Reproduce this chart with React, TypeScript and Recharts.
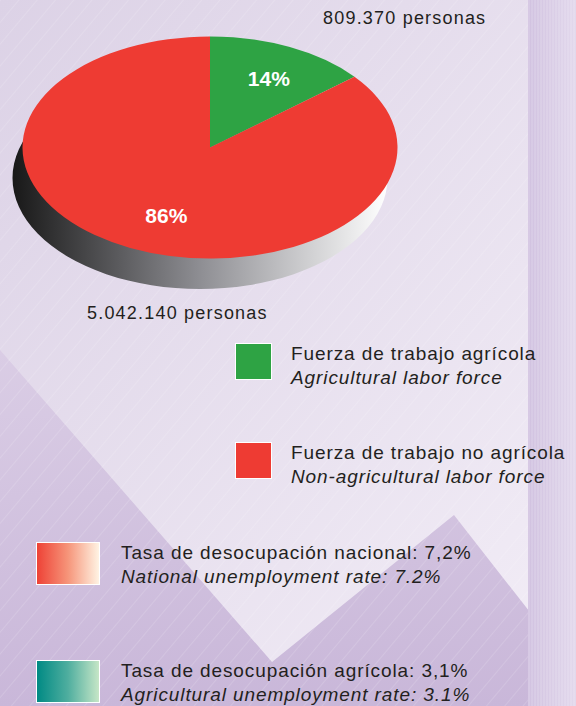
import { PieChart, Pie, Cell } from "recharts";

// labor force split (pie)
const laborShares = [14, 86];
const laborPeople = ["809.370 personas", "5.042.140 personas"];
const laborNamesEs = ["Fuerza de trabajo agrícola", "Fuerza de trabajo no agrícola"];
const laborNamesEn = ["Agricultural labor force", "Non-agricultural labor force"];
const laborColors = ["#2ea344", "#ee3b33"];

// unemployment rates (swatch legend)
const rateNamesEs = ["Tasa de desocupación nacional: 7,2%", "Tasa de desocupación agrícola: 3,1%"];
const rateNamesEn = ["National unemployment rate: 7.2%", "Agricultural unemployment rate: 3.1%"];
const rateSwatches = [
  ["#ee4236", "#f6957a", "#fff3e3"],
  ["#008a84", "#4fae9f", "#c6e6c7"],
];

const K = 0.592; // vertical squash for the tilted pie
const M = 5; // PieChart default margin
const RADIAN = Math.PI / 180;
const FONT = '"Liberation Sans", Arial, sans-serif';

const pieData = laborShares.map((v, i) => ({ name: laborNamesEn[i], value: v }));
const rimData = [{ name: "rim", value: laborShares.reduce((a, b) => a + b, 0) }];

function PctLabel(props: any) {
  const { cx, cy, midAngle, outerRadius, value, index } = props;
  const r = outerRadius * (index === 0 ? 0.7 : 0.66);
  const x = cx + r * Math.cos(-midAngle * RADIAN) + (index === 0 ? 3 : 9);
  const y = cy + r * Math.sin(-midAngle * RADIAN) + 3;
  return (
    <text
      x={0}
      y={0}
      transform={`translate(${x} ${y}) scale(1 ${1 / K})`}
      fill="#fff"
      textAnchor="middle"
      dominantBaseline="central"
      style={{ fontFamily: FONT, fontSize: 21, fontWeight: 700 }}
    >
      {value}%
    </text>
  );
}

const textBase: React.CSSProperties = {
  position: "absolute",
  fontFamily: FONT,
  color: "#231f20",
  whiteSpace: "nowrap",
};

function Background() {
  return (
    <svg width={576} height={706} style={{ position: "absolute", left: 0, top: 0 }}>
      <defs>
        <linearGradient id="bgLight" x1="0" y1="0" x2="1" y2="1">
          <stop offset="0%" stopColor="#dcd2e6" />
          <stop offset="100%" stopColor="#f3eef7" />
        </linearGradient>
        <linearGradient id="bgDark" x1="0" y1="350" x2="0" y2="706" gradientUnits="userSpaceOnUse">
          <stop offset="0%" stopColor="#dacde5" />
          <stop offset="100%" stopColor="#c9b7d9" />
        </linearGradient>
        <linearGradient id="strip" x1="0" y1="0" x2="1" y2="0">
          <stop offset="0%" stopColor="#d1c2e0" />
          <stop offset="100%" stopColor="#e2d8ec" />
        </linearGradient>
        <pattern id="hatch" width={14} height={14} patternUnits="userSpaceOnUse" patternTransform="rotate(40)">
          <line x1={0} y1={0} x2={0} y2={14} stroke="#ffffff" strokeWidth={0.7} strokeOpacity={0.4} />
        </pattern>
        <pattern id="vstripe" width={3} height={10} patternUnits="userSpaceOnUse">
          <line x1={1} y1={0} x2={1} y2={10} stroke="#ffffff" strokeWidth={0.8} strokeOpacity={0.3} />
        </pattern>
      </defs>
      <rect x={0} y={0} width={576} height={706} fill="url(#bgLight)" />
      <polygon points="0,350 272,662 454,515 540,625 540,706 0,706" fill="url(#bgDark)" />
      <rect x={0} y={0} width={528} height={706} fill="url(#hatch)" />
      <rect x={528} y={0} width={48} height={706} fill="url(#strip)" />
      <rect x={528} y={0} width={48} height={706} fill="url(#vstripe)" />
    </svg>
  );
}

export default function App() {
  return (
    <div
      style={{
        position: "absolute",
        left: 0,
        top: 0,
        width: 576,
        height: 706,
        overflow: "hidden",
        fontFamily: FONT,
      }}
    >
      <Background />

      {/* tilted pie: circle squashed vertically */}
      <div
        style={{
          position: "absolute",
          left: 0,
          top: 0,
          width: 420,
          height: 500,
          transform: `scaleY(${K})`,
          transformOrigin: "0 0",
        }}
      >
        <PieChart width={420} height={500}>
          <defs>
            <linearGradient id="rimGrad" x1="0" y1="0" x2="1" y2="0">
              <stop offset="0%" stopColor="#181818" />
              <stop offset="50%" stopColor="#8e8e93" />
              <stop offset="100%" stopColor="#ffffff" />
            </linearGradient>
          </defs>
          <Pie
            data={rimData}
            dataKey="value"
            cx={200 - M}
            cy={178 / K - M}
            outerRadius={187.5}
            startAngle={90}
            endAngle={-270}
            fill="url(#rimGrad)"
            stroke="none"
            isAnimationActive={false}
          />
          <Pie
            data={pieData}
            dataKey="value"
            cx={210 - M}
            cy={147.5 / K - M}
            outerRadius={187.5}
            startAngle={90}
            endAngle={-270}
            stroke="none"
            label={PctLabel}
            labelLine={false}
            isAnimationActive={false}
          >
            {pieData.map((_, i) => (
              <Cell key={i} fill={laborColors[i]} />
            ))}
          </Pie>
        </PieChart>
      </div>

      <div style={{ ...textBase, left: 323, top: 8, fontSize: 18, letterSpacing: 1.2 }}>{laborPeople[0]}</div>
      <div style={{ ...textBase, left: 87, top: 303, fontSize: 18, letterSpacing: 1.2 }}>{laborPeople[1]}</div>

      {/* pie legend */}
      {laborNamesEs.map((name, i) => {
        const top = [342, 441][i];
        return (
          <div key={name}>
            <div
              style={{
                position: "absolute",
                left: 235,
                top: top + 1,
                width: 35,
                height: 35,
                background: laborColors[i],
                border: "1px solid #ffffff",
              }}
            />
            <div style={{ ...textBase, left: 291, top, fontSize: 19, lineHeight: "24px", letterSpacing: 0.9 }}>
              <div>{name}</div>
              <div style={{ fontStyle: "italic" }}>{laborNamesEn[i]}</div>
            </div>
          </div>
        );
      })}

      {/* unemployment legend */}
      {rateNamesEs.map((name, i) => {
        const top = [541, 659][i];
        const [c0, c1, c2] = rateSwatches[i];
        return (
          <div key={name}>
            <div
              style={{
                position: "absolute",
                left: 36,
                top: top + 1,
                width: 62,
                height: 41,
                background: `linear-gradient(to right, ${c0}, ${c1}, ${c2})`,
                border: "1px solid #ffffff",
              }}
            />
            <div style={{ ...textBase, left: 121, top, fontSize: 19, lineHeight: "24px", letterSpacing: 0.9 }}>
              <div>{name}</div>
              <div style={{ fontStyle: "italic" }}>{rateNamesEn[i]}</div>
            </div>
          </div>
        );
      })}
    </div>
  );
}
